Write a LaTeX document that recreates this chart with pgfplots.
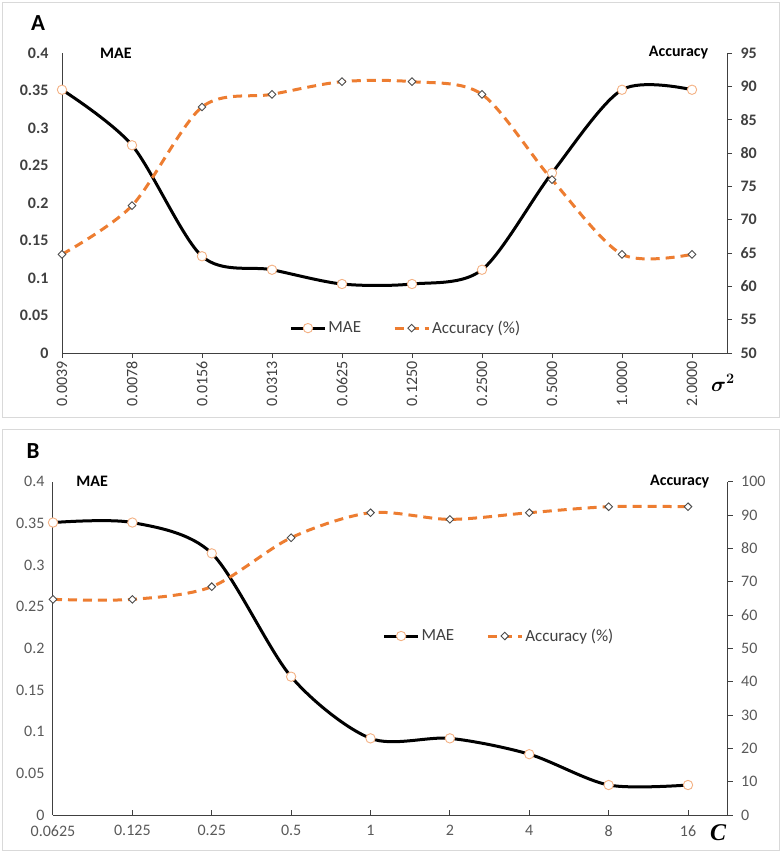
\documentclass[border=0pt]{standalone}
\usepackage{amsmath}
\usepackage{pgfplots}
\pgfplotsset{compat=1.18}
\usepackage{pgfplotstable}
\usepackage{fontspec}
\setmainfont{Carlito}
\newfontfamily\serifbi{Liberation Serif}

\definecolor{accor}{HTML}{ED7D31}
\definecolor{markor}{HTML}{F4B183}
\definecolor{axgray}{HTML}{404040}
\definecolor{tickgray}{HTML}{595959}
\definecolor{framegray}{HTML}{D9D9D9}

% panel A: sigma^2 sweep (x = category index)
\pgfplotstableread{
x mae acc
0 0.351 64.8
1 0.277 72.1
2 0.129 86.9
3 0.111 88.8
4 0.092 90.7
5 0.092 90.7
6 0.111 88.8
7 0.240 76.0
8 0.351 64.8
9 0.351 64.8
}\dataA

% panel B: C sweep
\pgfplotstableread{
x mae acc
0 0.351 64.7
1 0.351 64.7
2 0.314 68.5
3 0.166 83.2
4 0.092 90.7
5 0.092 88.7
6 0.073 90.7
7 0.036 92.5
8 0.036 92.5
}\dataB

\pgfplotsset{
  maestyle/.style={black, line width=3pt, smooth, mark=*, mark size=4.7pt,
    mark options={fill=white, draw=markor, line width=0.9pt, solid}},
  accstyle/.style={accor, line width=3pt, dash pattern=on 9pt off 6pt, smooth,
    mark=square*, mark size=2.7pt,
    mark options={fill=white, draw=gray!60!black, line width=0.9pt, solid, rotate=45}},
  base/.style={anchor=south west, scale only axis, clip=false,
    axis line style={axgray, line width=1pt},
    every tick/.style={axgray, line width=1pt},
    major tick length=5pt,
    legend image code/.code={\draw[mark repeat=2,mark phase=2] plot coordinates {(0pt,0pt)(17pt,0pt)(34pt,0pt)};},
  },
}

\begin{document}
\begin{tikzpicture}
\useasboundingbox (0pt,0pt) rectangle (781pt,-852pt);
\draw[framegray, line width=1pt] (2pt,-2pt) rectangle (779pt,-417pt);
\draw[framegray, line width=1pt] (2pt,-429pt) rectangle (779pt,-850pt);

% ---------- A ----------
\begin{axis}[base,
  at={(62pt,-353pt)}, width=665pt, height=300pt,
  xmin=0, xmax=9.5, ymin=0, ymax=0.4,
  axis x line*=bottom, axis y line*=left,
  xtick={0,...,9},
  xticklabels={0.0039,0.0078,0.0156,0.0313,0.0625,0.1250,0.2500,0.5000,1.0000,2.0000},
  xticklabel style={rotate=90, anchor=east, font=\fontsize{16}{18}\selectfont, text=axgray},
  tick align=outside,
  ytick={0,0.05,0.1,0.15,0.2,0.25,0.3,0.35,0.4},
  yticklabels={0,0.05,0.1,0.15,0.2,0.25,0.3,0.35,0.4},
  yticklabel style={font=\fontsize{16}{18}\selectfont\bfseries, text=axgray, xshift=-5pt},
  y tick style={draw=none},
]
\addplot[maestyle] table[x=x, y=mae] {\dataA};
\node[font=\fontsize{16}{18}\selectfont\bfseries] at (rel axis cs:0.081,1) {MAE};
\end{axis}
\begin{axis}[base,
  at={(62pt,-353pt)}, width=665pt, height=300pt,
  xmin=0, xmax=9.5, ymin=50, ymax=95,
  axis x line=none, axis y line*=right,
  tick align=outside,
  ytick={50,55,...,95},
  yticklabels={50,55,60,65,70,75,80,85,90,95},
  yticklabel style={font=\fontsize{16}{18}\selectfont\bfseries, text=axgray, xshift=5pt},
  legend columns=2,
  legend style={draw=none, fill=none, at={(0.517,0.083)}, anchor=center,
    font=\fontsize{17}{19}\selectfont, text=axgray,
    /tikz/every even column/.append style={column sep=30pt}},
]
\addlegendimage{maestyle}
\addlegendentry{MAE}
\addplot[accstyle] table[x=x, y=acc] {\dataA};
\addlegendentry{Accuracy (\%)}
\node[font=\fontsize{16}{18}\selectfont\bfseries, anchor=east] at (rel axis cs:0.977,1) {Accuracy};
\end{axis}
\node[font=\fontsize{23}{25}\selectfont\bfseries] at (38pt,-23pt) {A};
\node[font=\fontsize{22}{24}\selectfont] at (723pt,-383pt) {$\boldsymbol{\sigma^2}$};

% ---------- B ----------
\begin{axis}[base,
  at={(53pt,-815pt)}, width=674.7pt, height=333.3pt,
  xmin=0, xmax=8.5, ymin=0, ymax=0.4,
  axis x line*=bottom, axis y line*=left,
  xtick={0,...,8},
  xticklabels={0.0625,0.125,0.25,0.5,1,2,4,8,16},
  xticklabel style={font=\fontsize{16}{18}\selectfont, text=tickgray, yshift=-7pt},
  tick align=inside,
  ytick={0,0.05,0.1,0.15,0.2,0.25,0.3,0.35,0.4},
  yticklabels={0,0.05,0.1,0.15,0.2,0.25,0.3,0.35,0.4},
  yticklabel style={font=\fontsize{16}{18}\selectfont, text=tickgray, xshift=-5pt},
  y tick style={draw=none},
]
\addplot[maestyle] table[x=x, y=mae] {\dataB};
\node[font=\fontsize{16}{18}\selectfont\bfseries] at (rel axis cs:0.058,1) {MAE};
\end{axis}
\begin{axis}[base,
  at={(53pt,-815pt)}, width=674.7pt, height=333.3pt,
  xmin=0, xmax=8.5, ymin=0, ymax=100,
  axis x line=none, axis y line*=right,
  tick align=outside,
  ytick={0,10,...,100},
  yticklabels={0,10,20,30,40,50,60,70,80,90,100},
  yticklabel style={font=\fontsize{16}{18}\selectfont, text=tickgray, xshift=5pt},
  legend columns=2,
  legend style={draw=none, fill=none, at={(0.661,0.537)}, anchor=center,
    font=\fontsize{17}{19}\selectfont, text=axgray,
    /tikz/every even column/.append style={column sep=30pt}},
]
\addlegendimage{maestyle}
\addlegendentry{MAE}
\addplot[accstyle] table[x=x, y=acc] {\dataB};
\addlegendentry{Accuracy (\%)}
\node[font=\fontsize{16}{18}\selectfont\bfseries, anchor=east] at (rel axis cs:0.978,1) {Accuracy};
\end{axis}
\node[font=\fontsize{23}{25}\selectfont\bfseries] at (33pt,-451pt) {B};
\node[font=\fontsize{24}{26}\selectfont\serifbi\bfseries\itshape] at (718pt,-833pt) {C};
\end{tikzpicture}
\end{document}
